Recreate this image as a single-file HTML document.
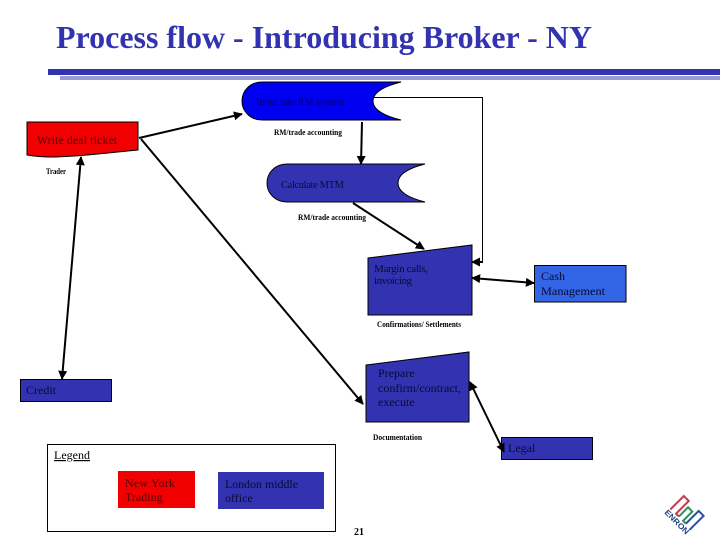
<!DOCTYPE html>
<html>
<head>
<meta charset="utf-8">
<style>
html,body{margin:0;padding:0;background:#fff;width:720px;height:540px;overflow:hidden}
svg{display:block}
text{font-family:"Liberation Serif",serif;fill:#000}
.t{font-size:12px;fill:#0a0a30}
.s{font-size:8.5px;font-weight:bold}
</style>
</head>
<body>
<svg width="720" height="540" viewBox="0 0 720 540" xmlns="http://www.w3.org/2000/svg">
<defs>
<marker id="a" viewBox="0 0 10 10" refX="9" refY="5" markerWidth="4.5" markerHeight="4.5" orient="auto-start-reverse" markerUnits="strokeWidth"><path d="M0 0L10 5L0 10z" fill="#000"/></marker>
</defs>
<!-- title -->
<text x="56" y="48" font-size="32" font-weight="bold" textLength="536" lengthAdjust="spacingAndGlyphs" style="fill:#3333b2">Process flow - Introducing Broker - NY</text>
<rect x="48" y="69" width="672" height="6" fill="#3333b2"/>
<rect x="60" y="76" width="660" height="4" fill="#9999d9"/>

<!-- shapes -->
<path d="M401 82H262C250 82 242 91 242 101C242 111 250 120 262 120H401C385 116 373 110 373 101C373 92 385 86 401 82Z" fill="#0000f0" stroke="#000" stroke-width="1"/>
<path d="M425 164H287C275 164 267 173 267 183C267 193 275 202 287 202H425C409 198 398 192 398 183C398 174 409 168 425 164Z" fill="#3333b2" stroke="#000" stroke-width="1"/>
<path d="M27 122H138V150C105 153 75 157 50 157C40 157 33 156 27 155Z" fill="#f00000" stroke="#000" stroke-width="1"/>
<path d="M368 258L472 245V315H368Z" fill="#3333b2" stroke="#000" stroke-width="1"/>
<rect x="534.500" y="265.500" width="91.500" height="36.500" fill="#3366e6" stroke="#000" stroke-width="1"/>
<path d="M366 365L469 352V422H366Z" fill="#3333b2" stroke="#000" stroke-width="1"/>
<rect x="20.500" y="379.500" width="91" height="22" fill="#3333b2" stroke="#000" stroke-width="1"/>
<rect x="501.500" y="437.500" width="91" height="22" fill="#3333b2" stroke="#000" stroke-width="1"/>
<rect x="47.500" y="444.500" width="288" height="87" fill="#fff" stroke="#000" stroke-width="1"/>
<rect x="118" y="471" width="77" height="37" fill="#f00000"/>
<rect x="218" y="472" width="106" height="37" fill="#3333b2"/>

<!-- connectors -->
<g fill="none" stroke="#000" stroke-width="2">
<line x1="139" y1="138" x2="242" y2="114" marker-end="url(#a)"/>
<line x1="141" y1="139" x2="363" y2="404" marker-end="url(#a)"/>
<line x1="81" y1="157" x2="62" y2="379" marker-start="url(#a)" marker-end="url(#a)"/>
<line x1="362" y1="122" x2="361" y2="164" marker-end="url(#a)"/>
<line x1="353" y1="203" x2="424" y2="249" marker-end="url(#a)"/>
<line x1="472" y1="278" x2="534" y2="283" marker-start="url(#a)" marker-end="url(#a)"/>
<line x1="470" y1="382" x2="504" y2="452" marker-start="url(#a)" marker-end="url(#a)"/>
<path d="M483 262H472" marker-end="url(#a)"/>
</g>
<path d="M374 97.500H482.500V262" fill="none" stroke="#000" stroke-width="1"/>

<!-- labels -->
<text class="t" x="256" y="105" textLength="88" lengthAdjust="spacing" style="font-size:10px;fill:#000070">Input into RM system</text>
<text class="t" x="37" y="144" textLength="80" lengthAdjust="spacing" style="font-size:11.500px;fill:#500">Write deal ticket</text>
<text class="t" x="281" y="188" textLength="63" lengthAdjust="spacing" style="font-size:10.500px">Calculate MTM</text>
<text class="t" x="374" y="272" textLength="54" lengthAdjust="spacing" style="font-size:11px">Margin calls,</text>
<text class="t" x="374" y="284" textLength="38" lengthAdjust="spacing" style="font-size:11px">invoicing</text>
<text class="t" x="541" y="280">Cash</text>
<text class="t" x="541" y="295" textLength="64" lengthAdjust="spacingAndGlyphs">Management</text>
<text class="t" x="378" y="377">Prepare</text>
<text class="t" x="378" y="392" textLength="83" lengthAdjust="spacingAndGlyphs">confirm/contract,</text>
<text class="t" x="378" y="406">execute</text>
<text class="t" x="26" y="394">Credit</text>
<text class="t" x="508" y="452">Legal</text>
<text class="t" x="54" y="459" text-decoration="underline" style="fill:#000">Legend</text>
<text class="t" x="125" y="487" textLength="50" lengthAdjust="spacing" style="fill:#500">New York</text>
<text class="t" x="125" y="501" style="fill:#500">Trading</text>
<text class="t" x="225" y="488" textLength="73" lengthAdjust="spacingAndGlyphs">London middle</text>
<text class="t" x="225" y="502">office</text>

<text class="s" x="274" y="135" textLength="68" lengthAdjust="spacingAndGlyphs">RM/trade accounting</text>
<text class="s" x="298" y="220" textLength="68" lengthAdjust="spacingAndGlyphs">RM/trade accounting</text>
<text class="s" x="46" y="174" textLength="20" lengthAdjust="spacingAndGlyphs">Trader</text>
<text class="s" x="377" y="327" textLength="84" lengthAdjust="spacingAndGlyphs">Confirmations/ Settlements</text>
<text class="s" x="373" y="440" textLength="49" lengthAdjust="spacingAndGlyphs">Documentation</text>
<text x="354" y="535" font-size="10" font-weight="bold">21</text>

<!-- logo -->
<g transform="translate(664 513) rotate(45)">
<g fill="none" stroke-width="2">
<path d="M2 -7V-26H9V-8H13" stroke="#c43a4a"/>
<path d="M13 -8V-21H19V-8H23" stroke="#2f8f5a"/>
<path d="M23 -8V-26H30V-6" stroke="#2b4fa8"/>
</g>
<text x="0" y="0" font-size="8" font-weight="bold" textLength="31" lengthAdjust="spacingAndGlyphs" style="font-family:'Liberation Sans',sans-serif;fill:#1f4080">ENRON</text>
</g>
</svg>
</body>
</html>
